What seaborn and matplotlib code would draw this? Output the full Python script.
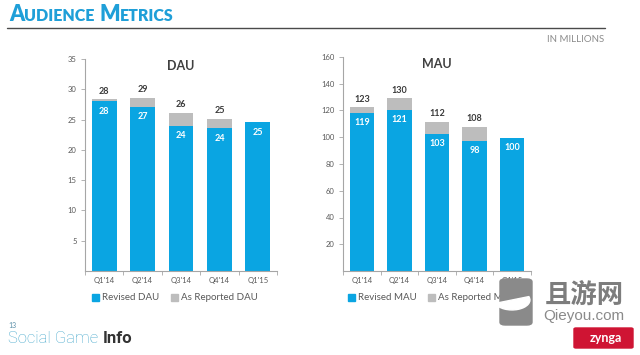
import matplotlib
matplotlib.use('Agg')
import matplotlib.pyplot as plt
import seaborn as sns
import pandas as pd
import numpy as np
from matplotlib.patches import Patch, FancyBboxPatch, Wedge
from matplotlib.lines import Line2D

# data
quarters = ["Q1'14", "Q2'14", "Q3'14", "Q4'14", "Q1'15"]

dau_revised = [28.0, 27.1, 24.0, 23.6, 24.6]
dau_reported = [28.4, 28.6, 26.1, 25.1, np.nan]
dau_revised_labels = ["28", "27", "24", "24", "25"]
dau_reported_labels = ["28", "29", "26", "25"]

mau_revised = [118.5, 120.5, 102.5, 97.5, 99.8]
mau_reported = [122.5, 129.0, 111.5, 107.8, np.nan]
mau_revised_labels = ["119", "121", "103", "98", "100"]
mau_reported_labels = ["123", "130", "112", "108"]

BLUE = '#0aa5e2'
GRAY = '#bdbdbd'
TXT = '#595959'

sns.set_style('white')
plt.rcParams['font.family'] = ['Lato', 'DejaVu Sans']

W, H = 640, 355
fig = plt.figure(figsize=(6.4, 3.55), dpi=100)


def px(x0, y0, w, h):
    # pixel box (top-left origin) -> figure fraction rect
    return [x0 / W, 1 - (y0 + h) / H, w / W, h / H]


def draw_panel(ax, revised, reported, rev_lab, rep_lab, name, ymax, step):
    df = pd.DataFrame({'quarter': quarters, 'revised': revised, 'reported': reported})
    sns.barplot(data=df.dropna(subset=['reported']), x='quarter', y='reported',
                order=quarters, color=GRAY, width=0.65, saturation=1,
                linewidth=0, ax=ax)
    sns.barplot(data=df, x='quarter', y='revised', order=quarters, color=BLUE,
                width=0.65, saturation=1, linewidth=0, ax=ax)
    ax.bar_label(ax.containers[0], labels=rep_lab, padding=2.5, fontsize=6.5,
                 fontweight='bold', color='#3a3a3a')
    ax.bar_label(ax.containers[1], labels=rev_lab, padding=-10.5, fontsize=6.5,
                 fontweight='bold', color='white')
    ax.set_ylim(0, ymax)
    ax.set_xlim(-0.5, 4.5)
    ax.set_yticks(np.arange(step, ymax + 1, step))
    ax.set_xlabel('')
    ax.set_ylabel('')
    for s in ['top', 'right']:
        ax.spines[s].set_visible(False)
    for s in ['left', 'bottom']:
        ax.spines[s].set_color('#a6a6a6')
        ax.spines[s].set_linewidth(0.8)
    ax.tick_params(axis='y', length=3, width=0.6, color='#a6a6a6', labelsize=5.5,
                   labelcolor=TXT, pad=3, left=True)
    ax.tick_params(axis='x', which='major', length=0, labelsize=5.5,
                   labelcolor=TXT, pad=4)
    ax.set_xticks(np.arange(-0.5, 5, 1), minor=True)
    ax.tick_params(axis='x', which='minor', length=3, width=0.6, color='#a6a6a6',
                   bottom=True)
    ax.text(0.5, 0.967, name, transform=ax.transAxes, ha='center', va='center',
            fontsize=9, fontweight='bold', color='#404040')


ax1 = fig.add_axes(px(85, 59, 192, 212))
draw_panel(ax1, dau_revised, dau_reported, dau_revised_labels, dau_reported_labels,
           'DAU', 35, 5)
ax2 = fig.add_axes(px(343, 57, 188, 214))
draw_panel(ax2, mau_revised, mau_reported, mau_revised_labels, mau_reported_labels,
           'MAU', 160, 20)

for cx, tag in [(175, 'DAU'), (432, 'MAU')]:
    handles = [Patch(color=BLUE), Patch(color=GRAY)]
    fig.legend(handles, ['Revised ' + tag, 'As Reported ' + tag], ncol=2,
               loc='center', bbox_to_anchor=(cx / W, 1 - 298 / H), frameon=False,
               fontsize=7, labelcolor=TXT, handlelength=0.7, handleheight=0.7,
               handletextpad=0.3, columnspacing=1.2)

# header, faux small caps
renderer = fig.canvas.get_renderer()
x = 9
for part, size, gap in [('A', 15.5, 0), ('UDIENCE', 11.5, 5), ('M', 15.5, 0), ('ETRICS', 11.5, 0)]:
    t = fig.text(x / W, 1 - 21 / H, part, fontsize=size, fontweight='heavy',
                 color='#1f9fd8', va='baseline')
    x += t.get_window_extent(renderer).width + gap

fig.add_artist(Line2D([7 / W, 605 / W], [1 - 28 / H] * 2, color='#4a4a4a', lw=1))
fig.text(604 / W, 1 - 40 / H, 'IN MILLIONS', ha='right', va='center', fontsize=7,
         color='#8c8c8c')

# footer
fig.text(8 / W, 1 - 328 / H, '13', fontsize=5, color='#5b8fa8', va='baseline')
t = fig.text(8 / W, 1 - 343 / H, 'Social Game', fontsize=12, fontweight='light',
             color='#4aaacd', va='baseline', family=['Roboto', 'DejaVu Sans'])
w = t.get_window_extent(renderer).width
fig.text((8 + w + 5) / W, 1 - 343 / H, 'Info', fontsize=12, fontweight='bold',
         color='#333333', va='baseline', family=['Roboto', 'DejaVu Sans'])

# watermark
box = FancyBboxPatch((500 / W, 1 - 325 / H), 32 / W, 46 / H,
                     boxstyle='round,pad=0,rounding_size=0.008',
                     transform=fig.transFigure, color='#8a8a8a', zorder=10)
fig.add_artist(box)
fig.add_artist(Wedge((512 / W, 1 - 300 / H), 0.028, 200, 20,
                     transform=fig.transFigure, color='white', zorder=11))
fig.text(584 / W, 1 - 295 / H, '且游网', ha='center', va='center', fontsize=19,
         fontweight='bold', color='#7d7d7d', family=['Noto Sans CJK SC', 'DejaVu Sans'],
         zorder=11)
fig.text(584 / W, 1 - 316 / H, 'Qieyou.com', ha='center', va='center', fontsize=11,
         color='#8a8a8a', family=['Liberation Sans', 'DejaVu Sans'], zorder=11)
zbox = FancyBboxPatch((574 / W, 1 - 348 / H), 59 / W, 20 / H,
                      boxstyle='round,pad=0,rounding_size=0.003',
                      transform=fig.transFigure, color='#cf1433', zorder=10)
fig.add_artist(zbox)
fig.text(606 / W, 1 - 338 / H, 'zynga', ha='center', va='center', fontsize=9,
         fontweight='bold', color='white', zorder=11)

fig.savefig('out.png', dpi=100)
